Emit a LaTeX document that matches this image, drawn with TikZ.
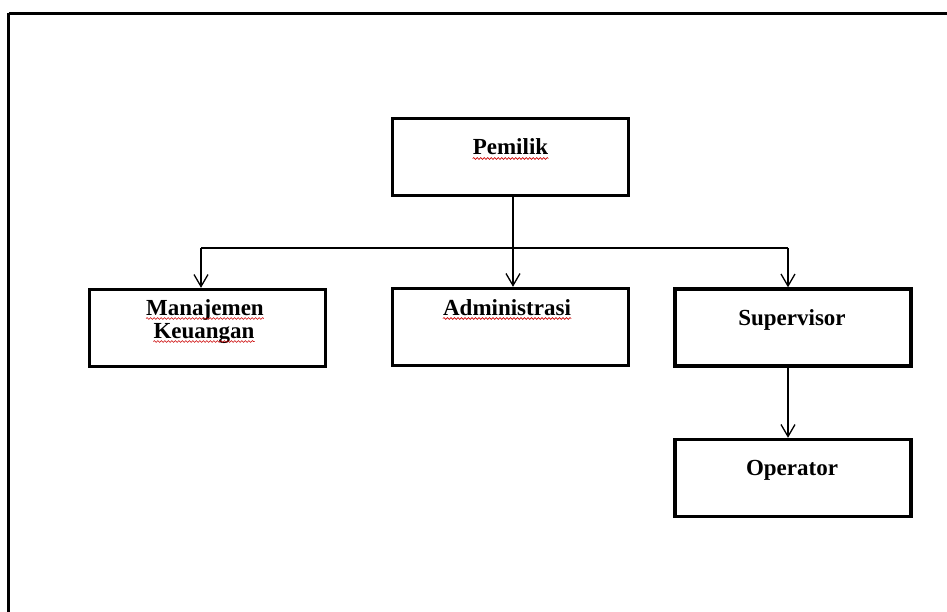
\documentclass[tikz,border=0pt]{standalone}
\usepackage{fontspec}
\setmainfont{Liberation Serif}
\usetikzlibrary{arrows.meta,decorations.pathmorphing}

\tikzset{
  unitbox/.style={draw=black, line width=3.4pt, rectangle, inner sep=0pt,
    minimum width=236pt, minimum height=77pt},
  boxtext/.style={anchor=base, inner sep=0pt, font=\bfseries\fontsize{23}{23}\selectfont},
  link/.style={draw=black, line width=1.3pt},
  linkarrow/.style={link, -{Straight Barb[length=12pt,width=14pt,line width=1.3pt]}},
  spellmark/.style={draw=red!80!black, line width=0.6pt,
    decorate, decoration={snake, amplitude=0.9pt, segment length=3.5pt}},
  frame/.style={draw=black, line width=3pt}
}

\begin{document}
\begin{tikzpicture}[x=1pt, y=-1pt]
  \useasboundingbox (0,0) rectangle (947,612);
  \clip (0,0) rectangle (947,612);
  \fill[white] (0,0) rectangle (947,612);

  % outer frame, running off the right and bottom edges
  \draw[frame] (8.5,13.5) -- (980,13.5);
  \draw[frame] (8.5,13.5) -- (8.5,640);

  % boxes (centres)
  \node[unitbox] (owner) at (510.5,157) {};
  \node[unitbox] (fin)   at (207.5,328) {};
  \node[unitbox] (adm)   at (510.5,327) {};
  \node[unitbox] (sup)   at (793,327.5) {};
  \node[unitbox] (op)    at (793,478) {};

  % labels
  \node[boxtext] (tOwner) at (510.5,155) {Pemilik};
  \node[boxtext] (tFin1)  at (205,315) {Manajemen};
  \node[boxtext] (tFin2)  at (204,338) {Keuangan};
  \node[boxtext] (tAdm)   at (507,315) {Administrasi};
  \node[boxtext] (tSup)   at (792,325) {Supervisor};
  \node[boxtext] (tOp)    at (792,475) {Operator};

  % spell-check underlines
  \foreach \t in {tOwner,tFin1,tFin2,tAdm}{
    \draw[spellmark] ([yshift=-3.5pt]\t.base west) -- ([yshift=-3.5pt]\t.base east);
  }

  % connectors
  \coordinate (bus)  at (513,248);
  \coordinate (busL) at (201,248);
  \coordinate (busR) at (788,248);
  \draw[link] (owner.south -| bus) -- (bus);
  \draw[link] (busL) -- (busR);
  \draw[linkarrow] (busL) -- (busL |- fin.north);
  \draw[linkarrow] (bus) -- (bus |- adm.north);
  \draw[linkarrow] (busR) -- (busR |- sup.north);
  \draw[linkarrow] (sup.south -| busR) -- (busR |- op.north);
\end{tikzpicture}
\end{document}
